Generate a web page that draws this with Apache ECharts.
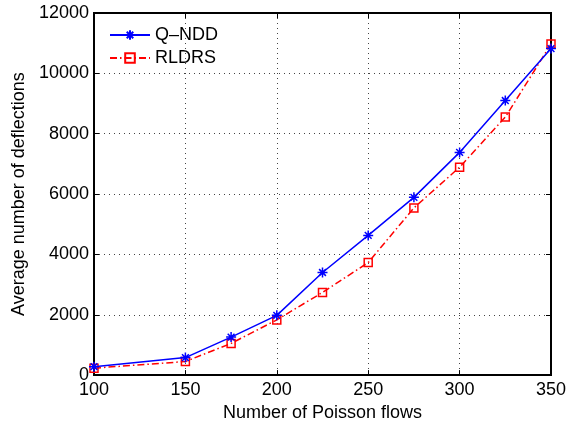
<!DOCTYPE html>
<html><head><meta charset="utf-8">
<script src="https://cdn.jsdelivr.net/npm/echarts@6/dist/echarts.min.js"></script>
<style>html,body{margin:0;padding:0;background:#fff}#c{width:573px;height:427px}</style>
</head><body><div id="c"></div>
<script>
const flows = [100, 150, 175, 200, 225, 250, 275, 300, 325, 350];
const qndd = [280, 580, 1260, 1980, 3400, 4630, 5890, 7380, 9100, 10820];
const rldrs = [230, 450, 1050, 1830, 2740, 3730, 5540, 6890, 8550, 10970];
const xTicks = [100, 150, 200, 250, 300, 350];
const yTicks = [0, 2000, 4000, 6000, 8000, 10000, 12000];

const font = 'Liberation Sans, Helvetica, Arial, sans-serif';
const asterisk = 'path://M5,0 L5,10 M0,5 L10,5 M1.6,1.6 L8.4,8.4 M1.6,8.4 L8.4,1.6';
const chart = echarts.init(document.getElementById('c'), null, {renderer: 'canvas'});
const boxAxis = {
  show: true,
  axisLine: {show: true, onZero: false, lineStyle: {color: '#000', width: 2}},
  axisTick: {show: true, inside: true, length: 5, lineStyle: {color: '#000', width: 1}},
  axisLabel: {show: false},
  splitLine: {show: false}
};
chart.setOption({
  animation: false,
  backgroundColor: '#fff',
  grid: {left: 94, right: 22, top: 13, bottom: 49, containLabel: false,
         show: true, borderColor: '#000', borderWidth: 2, backgroundColor: 'transparent'},
  legend: {
    orient: 'vertical', left: 109, top: 26, padding: 0,
    itemWidth: 40, itemHeight: 12, itemGap: 5,
    textStyle: {fontFamily: font, fontSize: 18, color: '#000'},
    data: ['Q\u2013NDD', 'RLDRS']
  },
  xAxis: [{
    type: 'value', min: xTicks[0], max: xTicks[xTicks.length - 1], interval: 50,
    name: 'Number of Poisson flows', nameLocation: 'middle', nameGap: 26,
    nameTextStyle: {fontFamily: font, fontSize: 18, color: '#000'},
    axisLine: {show: true, onZero: false, lineStyle: {color: '#000', width: 2}},
    axisTick: {show: true, inside: true, length: 5, lineStyle: {color: '#000'}},
    axisLabel: {fontFamily: font, fontSize: 18, color: '#000', margin: 6, formatter: v => String(v)},
    splitLine: {show: true, lineStyle: {color: '#444', type: [1, 4], width: 1}}
  }, Object.assign({type: 'value', position: 'top', min: 100, max: 350, interval: 50}, boxAxis)],
  yAxis: [{
    type: 'value', min: yTicks[0], max: yTicks[yTicks.length - 1], interval: 2000,
    name: 'Average number of deflections', nameLocation: 'middle', nameGap: 51,
    nameTextStyle: {fontFamily: font, fontSize: 18, color: '#000'},
    axisLine: {show: true, onZero: false, lineStyle: {color: '#000', width: 2}},
    axisTick: {show: true, inside: true, length: 5, lineStyle: {color: '#000'}},
    axisLabel: {fontFamily: font, fontSize: 18, color: '#000', margin: 5, formatter: v => String(v)},
    splitLine: {show: true, lineStyle: {color: '#444', type: [1, 4], width: 1}}
  }, Object.assign({type: 'value', position: 'right', min: 0, max: 12000, interval: 2000}, boxAxis)],
  series: [{
    name: 'Q\u2013NDD', type: 'line',
    data: flows.map((f, i) => [f, qndd[i]]),
    symbol: asterisk, symbolSize: 10,
    lineStyle: {color: '#0000ff', width: 1.5},
    itemStyle: {color: '#0000ff', borderColor: '#0000ff', borderWidth: 1.5},
    z: 3
  }, {
    name: 'RLDRS', type: 'line',
    data: flows.map((f, i) => [f, rldrs[i]]),
    symbol: 'rect', symbolSize: 8,
    lineStyle: {color: '#ff0000', width: 1.5, type: [7, 3, 1.5, 3]},
    itemStyle: {color: 'rgba(255,255,255,0)', borderColor: '#ff0000', borderWidth: 1.5},
    z: 2
  }]
});
</script></body></html>
